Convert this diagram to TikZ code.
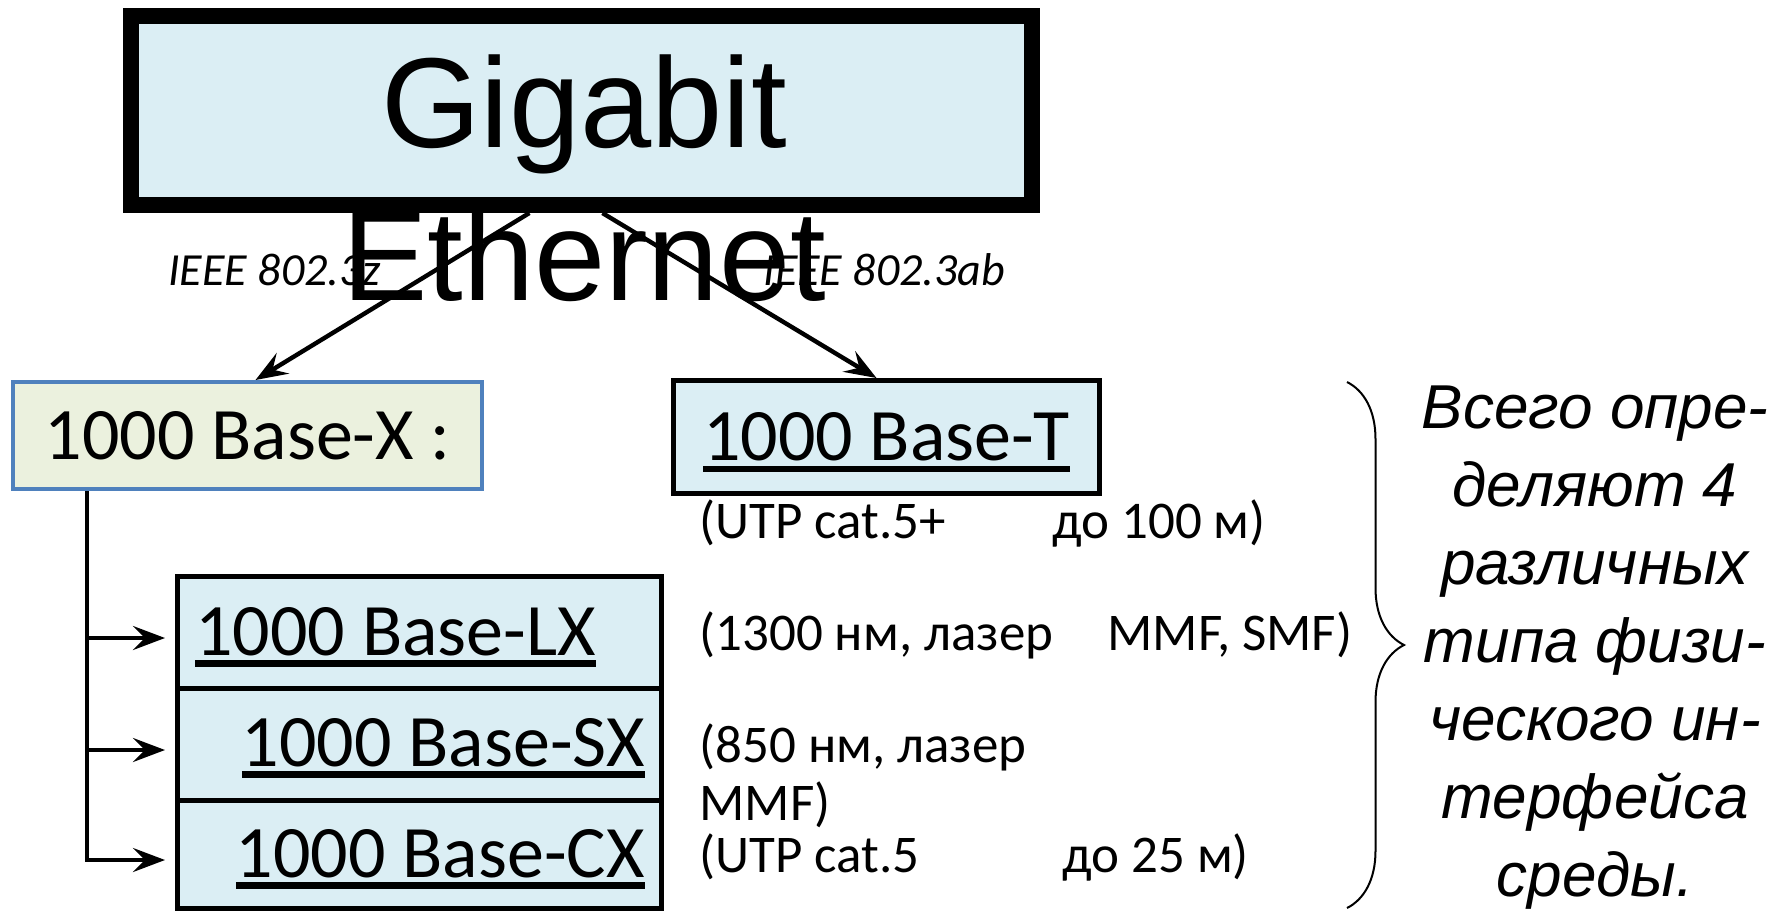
\documentclass[tikz,border=0pt]{standalone}
\usepackage{fontspec}
\setmainfont{Carlito}
\newfontfamily\headfont{Liberation Sans}
\usetikzlibrary{arrows.meta,calc,decorations.pathreplacing}
\definecolor{boxblue}{HTML}{DBEEF4}
\definecolor{boxgreen}{HTML}{EBF1DE}
\definecolor{edgeblue}{HTML}{4F81BD}
% underline with a fixed rule below the baseline, not counted in the depth
\newsavebox\ulbox
\newcommand\ulined[1]{\sbox\ulbox{#1}\smash{\rlap{\rule[-5.8pt]{\wd\ulbox}{3.2pt}}}\usebox\ulbox}
\begin{document}
\begin{tikzpicture}[x=0.5pt,y=-0.5pt,
  every node/.style={inner sep=0pt},
  arr/.style={line width=2.2pt,-{Stealth[length=16pt,width=12pt,inset=6pt]}},
  stack/.style={draw=black,line width=2.5pt,fill=boxblue,minimum width=242pt},
  lbl/.style={font=\fontsize{37}{44}\selectfont},
  note/.style={font=\fontsize{26.5}{31}\selectfont,anchor=base west},
  std/.style={font=\fontsize{23}{28}\selectfont\itshape,anchor=base west},
]
\fill[white] (0,0) rectangle (1777,911);
\useasboundingbox (0,0) rectangle (1777,911);

% title box
\node[draw=black,line width=8pt,fill=boxblue,minimum width=450.5pt,minimum height=94.5pt] (gig) at (581.4,110.5) {};

% second level
\node[draw=edgeblue,line width=2pt,fill=boxgreen,minimum width=234.5pt,minimum height=53.5pt,lbl] (basex) at (247.5,435.5) {1000 Base-X :};
\node[draw=black,line width=2.5pt,fill=boxblue,minimum width=213pt,minimum height=56.5pt,lbl] (baset) at (886.5,437) {\ulined{1000 Base-T}};

% stacked fibre/copper variants
\node[stack,minimum height=56pt] (lx) at (419.5,632) {};
\node[stack,minimum height=56pt] (sx) at (419.5,744) {};
\node[stack,minimum height=54pt] (cx) at (419.5,854) {};
\node[lbl,anchor=base west] (lxt) at (195,655) {\ulined{1000 Base-LX}};
\node[lbl,anchor=base east] (sxt) at (645,766) {\ulined{1000 Base-SX}};
\node[lbl,anchor=base east] (cxt) at (645,877) {\ulined{1000 Base-CX}};

% standards arrows
\draw[arr] ($(gig.south)+(-52,0)$) -- ($(basex.north)+(8,0)$);
\draw[arr] ($(gig.south)+(21,0)$) -- ($(baset.north)+(-10,0)$);
\node[std] (ieeez) at (168,285) {IEEE 802.3z};
\node[std] (ieeeab) at (763,285) {IEEE 802.3ab};

% title text, spilling over the box (anchored on its last line)
\node[font=\headfont\fontsize{64}{76.5}\selectfont,align=center,anchor=base] (gigtxt) at (584,300) {Gigabit\\Ethernet};

% branch from 1000 Base-X
\coordinate (tk) at ($(basex.south)+(-160.5,0)$);
\coordinate (lxin) at ($(lx.west)+(-10,6)$);
\coordinate (sxin) at ($(sx.west)+(-10,6)$);
\coordinate (cxin) at ($(cx.west)+(-10,6)$);
\draw[arr] (tk) |- (cxin);
\draw[arr] (tk |- lxin) -- (lxin);
\draw[arr] (tk |- sxin) -- (sxin);

% media notes
\node[note] (nt) at (699,538) {\makebox[176.5pt][l]{(UTP cat.5+}до 100 м)};
\node[note] (nlx) at (699,650) {\makebox[204pt][l]{(1300 нм, лазер}MMF, SMF)};
\node[note] (nsxa) at (699,762) {(850 нм, лазер};
\node[note] (nsxb) at (699,820) {MMF)};
\node[note] (ncx) at (699,872) {\makebox[181.5pt][l]{(UTP cat.5}до 25 м)};

% brace and summary
\coordinate (bt) at (1347,382);
\coordinate (bb) at (1347,908);
\draw[line width=1pt,decorate,decoration={brace,amplitude=28.5pt}] (bt) -- (bb);
\node[font=\headfont\itshape\fontsize{31}{39}\selectfont,align=center,anchor=base] (summary) at (1595,896)
  {Всего опре-\\деляют 4\\различных\\типа физи-\\ческого ин-\\терфейса\\среды.};
\end{tikzpicture}
\end{document}
